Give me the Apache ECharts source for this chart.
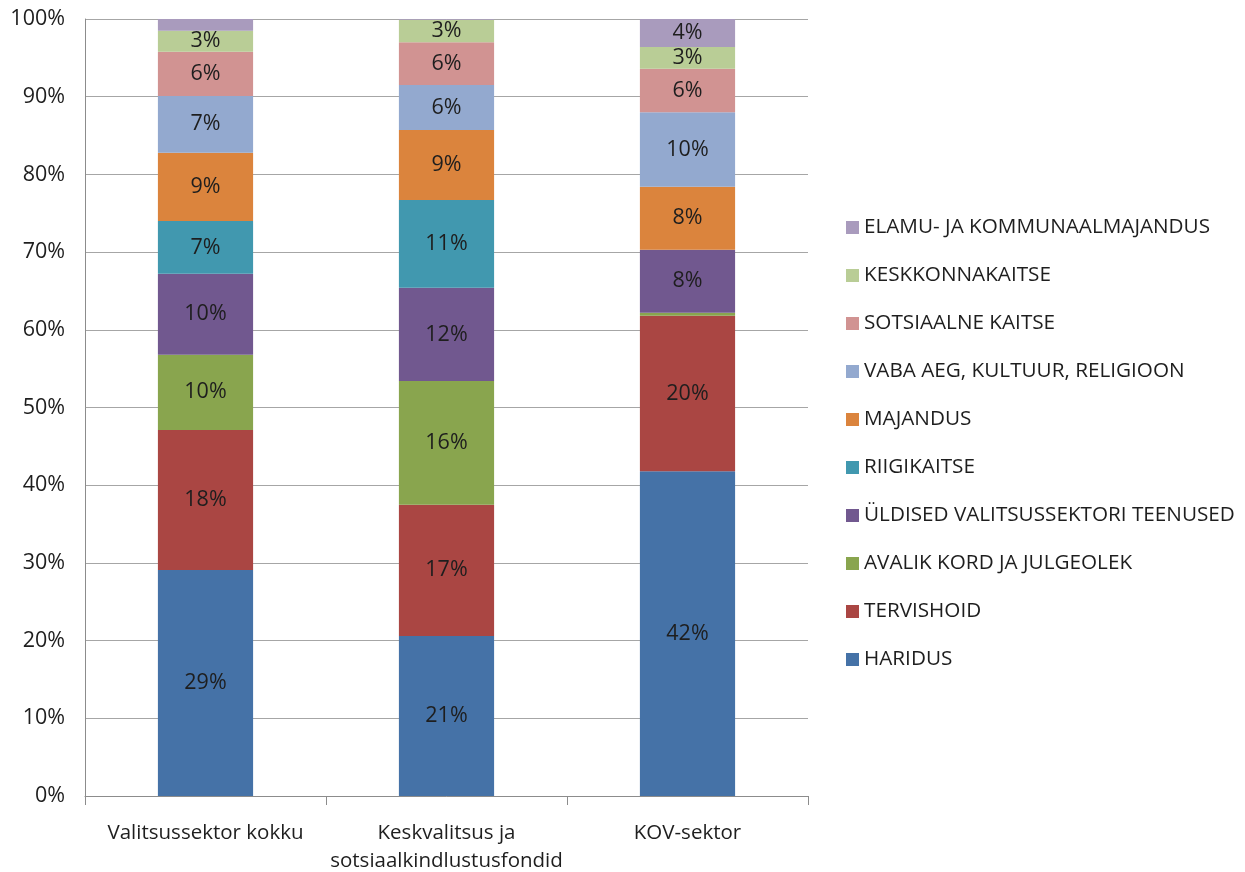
<!DOCTYPE html>
<html><head><meta charset="utf-8">
<script src="https://cdn.jsdelivr.net/npm/echarts@6/dist/echarts.min.js"></script>
<style>html,body{margin:0;padding:0;background:#fff}#c{width:1245px;height:872px}</style>
</head><body><div id="c"></div>
<script>
const categories = ["Valitsussektor kokku", "Keskvalitsus ja\nsotsiaalkindlustusfondid", "KOV-sektor"];
const seriesNames = ["HARIDUS", "TERVISHOID", "AVALIK KORD JA JULGEOLEK", "ÜLDISED VALITSUSSEKTORI TEENUSED", "RIIGIKAITSE", "MAJANDUS", "VABA AEG, KULTUUR, RELIGIOON", "SOTSIAALNE KAITSE", "KESKKONNAKAITSE", "ELAMU- JA KOMMUNAALMAJANDUS"];
const haridus = [29.1, 20.6, 41.8];
const tervishoid = [18.0, 16.9, 20.0];
const avalik = [9.7, 15.9, 0.4];
const yldised = [10.4, 12.0, 8.1];
const riigikaitse = [6.8, 11.3, 0];
const majandus = [8.8, 9.0, 8.1];
const vabaAeg = [7.3, 5.8, 9.6];
const sotsiaalne = [5.7, 5.5, 5.6];
const keskkond = [2.7, 2.9, 2.8];
const elamu = [1.5, 0.1, 3.6];
const yTicks = ["0%", "10%", "20%", "30%", "40%", "50%", "60%", "70%", "80%", "90%", "100%"];

const values = [haridus, tervishoid, avalik, yldised, riigikaitse, majandus, vabaAeg, sotsiaalne, keskkond, elamu];
const colors = ["#4572A7", "#AA4643", "#89A54E", "#71588F", "#4198AF", "#DB843D", "#93A9CF", "#D19392", "#B9CD96", "#A99BBD"];
const font = "'Open Sans', sans-serif";
const txt = '#1e1e1e';

const chart = echarts.init(document.getElementById('c'), null, {renderer: 'canvas'});
chart.setOption({
  animation: false,
  color: colors,
  textStyle: {fontFamily: font},
  grid: {left: 85, right: 437, top: 19, bottom: 76, containLabel: false, outerBoundsMode: 'none'},
  legend: {
    orient: 'vertical', left: 841, top: 212,
    data: seriesNames.slice().reverse(),
    itemWidth: 13, itemHeight: 13, itemGap: 27,
    icon: 'rect',
    textStyle: {fontFamily: font, fontSize: 20.7, color: txt}
  },
  xAxis: {
    type: 'category', data: categories,
    axisLine: {lineStyle: {color: '#8c8c8c'}},
    axisTick: {show: true, length: 9, lineStyle: {color: '#8c8c8c'}},
    axisLabel: {interval: 0, fontFamily: font, fontSize: 20.5, color: txt, margin: 23, lineHeight: 28}
  },
  yAxis: {
    type: 'value', min: 0, max: 100, interval: 10,
    axisLine: {show: true, lineStyle: {color: '#8c8c8c'}},
    axisTick: {show: false},
    splitLine: {lineStyle: {color: '#a6a6a6', width: 1}},
    axisLabel: {fontFamily: font, fontSize: 21.5, color: txt, margin: 20,
      formatter: (v) => yTicks[Math.round(v / 10)]}
  },
  series: values.map((d, i) => ({
    name: seriesNames[i], type: 'bar', stack: 'total', data: d,
    barWidth: '39.5%',
    label: {show: true, position: 'inside', fontFamily: font, fontSize: 21.5, color: txt,
      formatter: (p) => p.value >= 2 ? Math.round(p.value) + '%' : ''}
  }))
});
</script></body></html>
